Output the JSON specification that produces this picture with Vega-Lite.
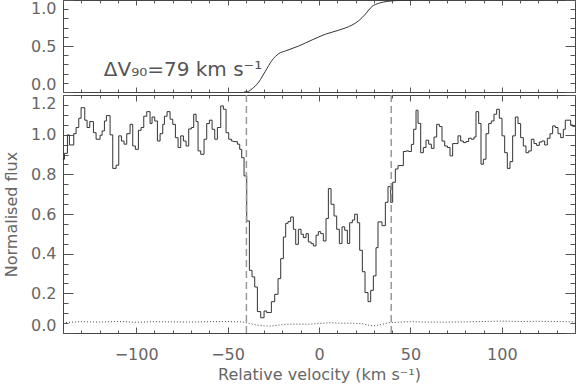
{
  "$schema": "https://vega.github.io/schema/vega-lite/v6.json",
  "padding": {"left": 2, "top": -3, "right": 0, "bottom": 0},
  "background": "white",
  "spacing": -3,
  "config": {
    "font": "DejaVu Sans",
    "view": {"stroke": "#444", "strokeWidth": 1},
    "axis": {"domain": false, "grid": false, "tickColor": "#555", "labelColor": "#666", "labelFontSize": 16, "labelFontWeight": "normal", "titleColor": "#666", "titleFontSize": 16, "titleFontWeight": "normal", "labelOverlap": false}
  },
  "datasets": {
    "cum": [
      {"v": -41, "c": 0}, {"v": -39, "c": 0.004}, {"v": -36.6, "c": 0.035}, {"v": -33, "c": 0.107}, {"v": -29.3, "c": 0.227},
      {"v": -25.7, "c": 0.344}, {"v": -22, "c": 0.417}, {"v": -18.4, "c": 0.446}, {"v": -11.1, "c": 0.5}, {"v": -3.8, "c": 0.566},
      {"v": 3.5, "c": 0.628}, {"v": 10.8, "c": 0.672}, {"v": 18, "c": 0.727}, {"v": 21.7, "c": 0.774}, {"v": 25.4, "c": 0.847},
      {"v": 29, "c": 0.93}, {"v": 32.6, "c": 0.964}, {"v": 38.1, "c": 0.986}, {"v": 44, "c": 0.996}, {"v": 51, "c": 1.0}
    ],
    "label": [{"v": -117.7, "c": 0.17, "t": "ΔV₉₀=79 km s⁻¹"}],
    "marks": [{"v": -39.7}, {"v": 39.5}],
    "flux": [
      {"v": -140.13, "f": 0.876}, {"v": -139.22, "f": 0.906}, {"v": -137.58, "f": 0.999}, {"v": -136.49, "f": 0.948}, {"v": -134.12, "f": 1.005},
      {"v": -132.84, "f": 1.036}, {"v": -131.38, "f": 1.083}, {"v": -130.11, "f": 1.136}, {"v": -128.1, "f": 1.073}, {"v": -126.83, "f": 1.036},
      {"v": -125.37, "f": 1.066}, {"v": -123.36, "f": 1.01}, {"v": -121.91, "f": 0.977}, {"v": -119.72, "f": 0.997}, {"v": -118.62, "f": 1.019},
      {"v": -117.35, "f": 1.069}, {"v": -116.26, "f": 1.096}, {"v": -114.25, "f": 0.999}, {"v": -112.79, "f": 0.83}, {"v": -110.97, "f": 0.846},
      {"v": -109.51, "f": 0.994}, {"v": -108.05, "f": 0.968}, {"v": -106.6, "f": 0.952}, {"v": -105.14, "f": 1.005}, {"v": -103.32, "f": 1.052},
      {"v": -101.86, "f": 0.943}, {"v": -100.4, "f": 0.926}, {"v": -98.76, "f": 1.022}, {"v": -97.3, "f": 1.036}, {"v": -95.84, "f": 1.093},
      {"v": -94.2, "f": 1.116}, {"v": -92.38, "f": 1.056}, {"v": -91.29, "f": 1.089}, {"v": -89.83, "f": 1.069}, {"v": -88.37, "f": 0.968},
      {"v": -86.91, "f": 1.005}, {"v": -85.46, "f": 1.052}, {"v": -84.54, "f": 1.093}, {"v": -83.09, "f": 1.116}, {"v": -81.45, "f": 1.078},
      {"v": -79.99, "f": 1.052}, {"v": -78.53, "f": 0.985}, {"v": -77.07, "f": 0.935}, {"v": -75.61, "f": 0.994}, {"v": -74.16, "f": 0.968},
      {"v": -72.7, "f": 0.943}, {"v": -71.24, "f": 1.029}, {"v": -69.78, "f": 1.036}, {"v": -68.51, "f": 1.103}, {"v": -67.23, "f": 1.066},
      {"v": -66.14, "f": 0.918}, {"v": -64.68, "f": 0.901}, {"v": -62.86, "f": 0.977}, {"v": -61.4, "f": 1.056}, {"v": -59.94, "f": 1.073},
      {"v": -58.48, "f": 1.027}, {"v": -57.02, "f": 0.977}, {"v": -55.57, "f": 1.036}, {"v": -53.74, "f": 1.145}, {"v": -52.29, "f": 1.128},
      {"v": -50.83, "f": 1.01}, {"v": -49.37, "f": 0.977}, {"v": -47.91, "f": 0.968}, {"v": -46.82, "f": 0.965}, {"v": -44.64, "f": 0.952},
      {"v": -43.36, "f": 0.926}, {"v": -42.27, "f": 0.884}, {"v": -40.99, "f": 0.792}, {"v": -39.53, "f": 0.565}, {"v": -38.07, "f": 0.316},
      {"v": -36.62, "f": 0.283}, {"v": -35.16, "f": 0.232}, {"v": -33.7, "f": 0.108}, {"v": -31.88, "f": 0.077}, {"v": -30.05, "f": 0.111},
      {"v": -28.6, "f": 0.103}, {"v": -27.32, "f": 0.103}, {"v": -26.05, "f": 0.158}, {"v": -24.22, "f": 0.195}, {"v": -22.4, "f": 0.274},
      {"v": -20.94, "f": 0.375}, {"v": -19.49, "f": 0.484}, {"v": -18.21, "f": 0.553}, {"v": -16.93, "f": 0.562}, {"v": -15.48, "f": 0.585},
      {"v": -14.02, "f": 0.523}, {"v": -12.74, "f": 0.447}, {"v": -11.28, "f": 0.523}, {"v": -9.83, "f": 0.498}, {"v": -8.55, "f": 0.481},
      {"v": -7.09, "f": 0.501}, {"v": -5.82, "f": 0.459}, {"v": -4.36, "f": 0.451}, {"v": -3.08, "f": 0.439}, {"v": -1.62, "f": 0.493},
      {"v": -0.35, "f": 0.511}, {"v": 0.93, "f": 0.501}, {"v": 2.38, "f": 0.464}, {"v": 3.84, "f": 0.577}, {"v": 5.12, "f": 0.728},
      {"v": 6.58, "f": 0.649}, {"v": 8.22, "f": 0.59}, {"v": 9.68, "f": 0.523}, {"v": 11.13, "f": 0.451}, {"v": 12.59, "f": 0.535},
      {"v": 14.05, "f": 0.518}, {"v": 15.51, "f": 0.451}, {"v": 16.78, "f": 0.556}, {"v": 18.24, "f": 0.57}, {"v": 19.52, "f": 0.599},
      {"v": 20.97, "f": 0.556}, {"v": 22.25, "f": 0.417}, {"v": 23.71, "f": 0.309}, {"v": 25.17, "f": 0.204}, {"v": 26.81, "f": 0.158},
      {"v": 28.26, "f": 0.215}, {"v": 29.72, "f": 0.288}, {"v": 31.18, "f": 0.43}, {"v": 32.27, "f": 0.56}, {"v": 34.46, "f": 0.541},
      {"v": 36.29, "f": 0.659}, {"v": 37.74, "f": 0.738}, {"v": 39.2, "f": 0.659}, {"v": 40.29, "f": 0.76}, {"v": 41.75, "f": 0.827},
      {"v": 43.21, "f": 0.844}, {"v": 46.13, "f": 0.915}, {"v": 47.59, "f": 0.918}, {"v": 49.05, "f": 0.915}, {"v": 50.51, "f": 0.951},
      {"v": 51.78, "f": 1.027}, {"v": 53.06, "f": 1.123}, {"v": 54.15, "f": 1.057}, {"v": 55.61, "f": 0.909}, {"v": 57.07, "f": 0.935},
      {"v": 58.52, "f": 0.972}, {"v": 59.98, "f": 0.952}, {"v": 61.44, "f": 0.931}, {"v": 62.9, "f": 0.988}, {"v": 64.36, "f": 1.052},
      {"v": 65.82, "f": 1.041}, {"v": 67.27, "f": 0.968}, {"v": 68.73, "f": 0.943}, {"v": 70.19, "f": 0.935}, {"v": 71.65, "f": 0.893},
      {"v": 73.1, "f": 0.955}, {"v": 76.02, "f": 0.994}, {"v": 77.48, "f": 0.968}, {"v": 78.94, "f": 0.96}, {"v": 80.39, "f": 0.965},
      {"v": 81.85, "f": 0.982}, {"v": 83.31, "f": 0.977}, {"v": 84.77, "f": 0.988}, {"v": 85.86, "f": 1.116}, {"v": 87.32, "f": 1.056},
      {"v": 88.6, "f": 0.851}, {"v": 89.87, "f": 0.876}, {"v": 91.33, "f": 1.005}, {"v": 92.79, "f": 1.056}, {"v": 94.25, "f": 1.069},
      {"v": 95.7, "f": 1.103}, {"v": 97.16, "f": 1.128}, {"v": 98.62, "f": 1.083}, {"v": 100.08, "f": 0.994}, {"v": 101.54, "f": 0.909},
      {"v": 102.99, "f": 0.83}, {"v": 104.45, "f": 0.864}, {"v": 105.91, "f": 0.994}, {"v": 107.37, "f": 1.089}, {"v": 108.83, "f": 1.056},
      {"v": 110.28, "f": 0.985}, {"v": 111.74, "f": 0.943}, {"v": 113.2, "f": 0.909}, {"v": 114.66, "f": 0.918}, {"v": 116.12, "f": 0.977},
      {"v": 117.57, "f": 0.955}, {"v": 119.03, "f": 0.946}, {"v": 120.49, "f": 0.963}, {"v": 121.95, "f": 0.968}, {"v": 123.41, "f": 0.948},
      {"v": 124.86, "f": 0.982}, {"v": 126.32, "f": 1.005}, {"v": 127.78, "f": 1.044}, {"v": 129.24, "f": 1.036}, {"v": 130.7, "f": 1.005},
      {"v": 132.15, "f": 0.985}, {"v": 133.61, "f": 1.027}, {"v": 134.7, "f": 1.073}, {"v": 137.62, "f": 1.049}, {"v": 138.72, "f": 1.042},
      {"v": 140, "f": 1.042}
    ],
    "err": [
      {"v": -140, "f": 0.052}, {"v": -130, "f": 0.057}, {"v": -120, "f": 0.055}, {"v": -110, "f": 0.058}, {"v": -100, "f": 0.054},
      {"v": -90, "f": 0.057}, {"v": -80, "f": 0.056}, {"v": -70, "f": 0.055}, {"v": -60, "f": 0.057}, {"v": -50, "f": 0.058},
      {"v": -42, "f": 0.056}, {"v": -38, "f": 0.048}, {"v": -34, "f": 0.04}, {"v": -30, "f": 0.036}, {"v": -26, "f": 0.035},
      {"v": -22, "f": 0.04}, {"v": -18, "f": 0.044}, {"v": -12, "f": 0.045}, {"v": -6, "f": 0.044}, {"v": 0, "f": 0.048},
      {"v": 6, "f": 0.052}, {"v": 12, "f": 0.049}, {"v": 18, "f": 0.05}, {"v": 24, "f": 0.046}, {"v": 28, "f": 0.038},
      {"v": 30, "f": 0.036}, {"v": 34, "f": 0.042}, {"v": 38, "f": 0.052}, {"v": 44, "f": 0.055}, {"v": 50, "f": 0.057},
      {"v": 60, "f": 0.055}, {"v": 70, "f": 0.055}, {"v": 80, "f": 0.056}, {"v": 90, "f": 0.058}, {"v": 100, "f": 0.06},
      {"v": 110, "f": 0.058}, {"v": 120, "f": 0.059}, {"v": 130, "f": 0.058}, {"v": 140, "f": 0.056}
    ]
  },
  "vconcat": [
    {
      "width": 512,
      "height": 92,
      "layer": [
        {
          "data": {"name": "cum"},
          "mark": {"type": "line", "interpolate": "monotone", "color": "#333", "strokeWidth": 1},
          "encoding": {
            "x": {"field": "v", "type": "quantitative", "scale": {"domain": [-140, 140], "nice": false, "zero": false},
              "axis": {"orient": "bottom", "title": null, "labels": false, "minExtent": 0, "maxExtent": 0, "values": [-140,-130,-120,-110,-100,-90,-80,-70,-60,-50,-40,-30,-20,-10,0,10,20,30,40,50,60,70,80,90,100,110,120,130,140],
                "tickSize": {"condition": {"test": "datum.value % 50 === 0", "value": -5}, "value": -3}}},
            "y": {"field": "c", "type": "quantitative", "scale": {"domain": [0, 1], "nice": false},
              "axis": {"orient": "left", "title": null, "values": [0,0.1,0.2,0.3,0.4,0.5,0.6,0.7,0.8,0.9,1],
                "tickSize": {"condition": {"test": "abs(datum.value*2 - round(datum.value*2)) < 0.001", "value": -10}, "value": -5},
                "labelExpr": "abs(datum.value*2 - round(datum.value*2)) < 0.001 ? format(datum.value, '.1f') : ''",
                "labelPadding": 17, "labelFlush": true, "minExtent": 34, "maxExtent": 34}}
          }
        },
        {
          "data": {"name": "label"},
          "mark": {"type": "text", "align": "left", "baseline": "alphabetic", "fontSize": 20, "color": "#555"},
          "encoding": {
            "x": {"field": "v", "type": "quantitative",
              "axis": {"orient": "top", "title": null, "labels": false, "minExtent": 0, "maxExtent": 0, "values": [-140,-130,-120,-110,-100,-90,-80,-70,-60,-50,-40,-30,-20,-10,0,10,20,30,40,50,60,70,80,90,100,110,120,130,140],
                "tickSize": {"condition": {"test": "datum.value % 50 === 0", "value": -5}, "value": -3}}},
            "y": {"field": "c", "type": "quantitative",
              "axis": {"orient": "right", "title": null, "labels": false, "minExtent": 0, "maxExtent": 0, "values": [0,0.1,0.2,0.3,0.4,0.5,0.6,0.7,0.8,0.9,1],
                "tickSize": {"condition": {"test": "abs(datum.value*2 - round(datum.value*2)) < 0.001", "value": -10}, "value": -5}}},
            "text": {"field": "t"}
          }
        }
      ],
      "resolve": {"axis": {"x": "independent", "y": "independent"}}
    },
    {
      "width": 512,
      "height": 238,
      "layer": [
        {
          "data": {"name": "flux"},
          "mark": {"type": "line", "interpolate": "step-after", "color": "#333", "strokeWidth": 1},
          "encoding": {
            "x": {"field": "v", "type": "quantitative", "scale": {"domain": [-140, 140], "nice": false, "zero": false},
              "axis": {"orient": "bottom", "title": "Relative velocity (km s⁻¹)", "titlePadding": 3, "minExtent": 30, "maxExtent": 30, "labelFlush": false,
                "values": [-140,-130,-120,-110,-100,-90,-80,-70,-60,-50,-40,-30,-20,-10,0,10,20,30,40,50,60,70,80,90,100,110,120,130,140],
                "tickSize": {"condition": {"test": "datum.value % 50 === 0", "value": -6}, "value": -3},
                "labelExpr": "datum.value % 50 === 0 ? datum.label : ''", "labelPadding": 19}},
            "y": {"field": "f", "type": "quantitative", "scale": {"domain": [0, 1.2], "nice": false},
              "axis": {"orient": "left", "title": "Normalised flux", "titlePadding": 10,
                "values": [0,0.05,0.1,0.15,0.2,0.25,0.3,0.35,0.4,0.45,0.5,0.55,0.6,0.65,0.7,0.75,0.8,0.85,0.9,0.95,1,1.05,1.1,1.15,1.2],
                "tickSize": {"condition": {"test": "abs(datum.value*5 - round(datum.value*5)) < 0.001", "value": -10}, "value": -5},
                "labelExpr": "abs(datum.value*5 - round(datum.value*5)) < 0.001 ? format(datum.value, '.1f') : ''",
                "labelPadding": 17, "labelFlush": true, "minExtent": 34, "maxExtent": 34}}
          }
        },
        {
          "data": {"name": "err"},
          "mark": {"type": "line", "color": "#444", "strokeWidth": 1, "strokeDash": [1, 2]},
          "encoding": {
            "x": {"field": "v", "type": "quantitative",
              "axis": {"orient": "top", "title": null, "labels": false, "minExtent": 0, "maxExtent": 0, "values": [-140,-130,-120,-110,-100,-90,-80,-70,-60,-50,-40,-30,-20,-10,0,10,20,30,40,50,60,70,80,90,100,110,120,130,140],
                "tickSize": {"condition": {"test": "datum.value % 50 === 0", "value": -6}, "value": -3}}},
            "y": {"field": "f", "type": "quantitative",
              "axis": {"orient": "right", "title": null, "labels": false, "minExtent": 0, "maxExtent": 0, "values": [0,0.05,0.1,0.15,0.2,0.25,0.3,0.35,0.4,0.45,0.5,0.55,0.6,0.65,0.7,0.75,0.8,0.85,0.9,0.95,1,1.05,1.1,1.15,1.2],
                "tickSize": {"condition": {"test": "abs(datum.value*5 - round(datum.value*5)) < 0.001", "value": -10}, "value": -5}}}
          }
        },
        {
          "data": {"name": "marks"},
          "mark": {"type": "rule", "color": "#999", "strokeWidth": 1.5, "strokeDash": [7, 4]},
          "encoding": {
            "x": {"field": "v", "type": "quantitative", "axis": null}
          }
        }
      ],
      "resolve": {"axis": {"x": "independent", "y": "independent"}}
    }
  ]
}
